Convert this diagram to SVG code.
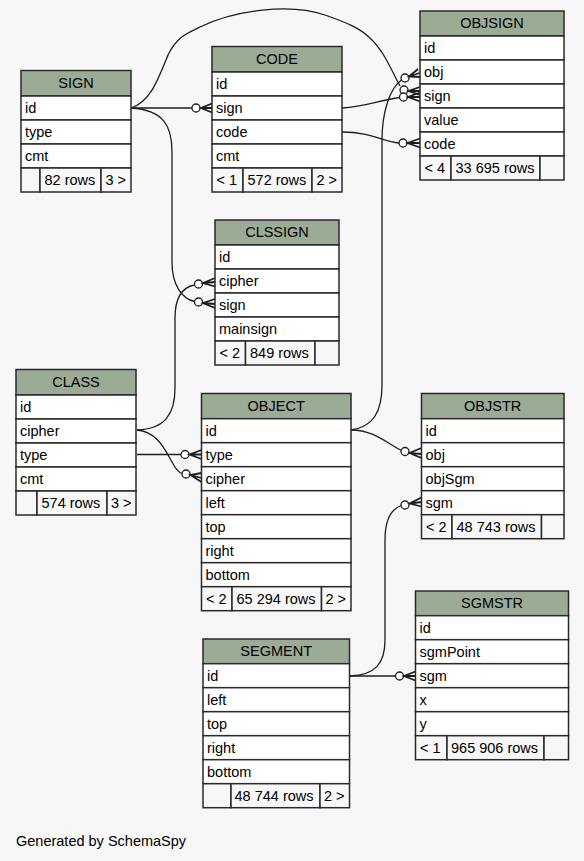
<svg xmlns="http://www.w3.org/2000/svg" width="584" height="861" viewBox="0 0 584 861">
<style>
text{font-family:"Liberation Sans",Arial,sans-serif;font-size:14.5px;font-weight:normal;fill:#000}
.hd{fill:#9bab96;stroke:#2a2a2a;stroke-width:1.5}
.rw{fill:#ffffff;stroke:#2a2a2a;stroke-width:1.5}
.ft{fill:#f7f7f7;stroke:#2a2a2a;stroke-width:1.5}
.c{text-anchor:middle}
.e{fill:none;stroke:#1e1e1e;stroke-width:1.3}
.o{fill:#ffffff;stroke:#1e1e1e;stroke-width:1.3}
.cr{fill:none;stroke:#1e1e1e;stroke-width:1.8}
</style>
<rect width="584" height="861" fill="#f7f7f7"/>

<g id="connectors">
<!-- SIGN.id -> CODE.sign -->
<path class="e" d="M131,108 L192,108"/>
<circle class="o" cx="196" cy="108" r="4"/>
<path class="cr" d="M212,103.5 L201,108 L212,112.5 M201,108 L212,108"/>
<!-- SIGN.id -> OBJSIGN.sign -->
<path class="e" d="M131,108 C150,102 158,80 168,55 C176,38 185,34 200,27 C235,10 290,3 325,15 C345,22 360,28 370,38 C385,52 392,72 400,86"/>
<circle class="o" cx="404" cy="90" r="4"/>
<path class="cr" d="M420,87 L408.5,91 L420,95 M408.5,91 L420,91"/>
<!-- CODE.sign -> OBJSIGN.sign -->
<path class="e" d="M342,108 C365,107 380,100 399.5,97.5"/>
<circle class="o" cx="403.5" cy="97" r="4"/>
<path class="cr" d="M420,92.5 L408,97 L420,101.5 M408,97 L420,97"/>
<!-- CODE.code -> OBJSIGN.code -->
<path class="e" d="M342,132 C370,132 382,141 399,143"/>
<circle class="o" cx="403" cy="143" r="4"/>
<path class="cr" d="M420,138.5 L407.5,143 L420,147.5 M407.5,143 L420,143"/>
<!-- OBJECT.id -> OBJSIGN.obj -->
<path class="e" d="M351,430 C373,427 382,412 382,385 L382,140 C382,112 390,88 401.5,80"/>
<circle class="o" cx="405" cy="78" r="4"/>
<path class="cr" d="M418,69 L409,76.5 L420,77 M409,76.5 L419.5,73"/>
<!-- SIGN.id -> CLSSIGN.sign -->
<path class="e" d="M131,108 C163,110 172,125 172,152 L172,262 C172,285 182,299 194.5,301.5"/>
<circle class="o" cx="198.5" cy="302" r="4"/>
<path class="cr" d="M215,299 L203,303 L215,308 M203,303 L215,304"/>
<!-- CLASS.cipher -> CLSSIGN.cipher -->
<path class="e" d="M137,430 C165,429 175,414 175,388 L175,318 C175,296 184,287 194.5,285"/>
<circle class="o" cx="198.5" cy="284" r="4"/>
<path class="cr" d="M215,278 L203,283 L215,286.5 M203,283 L215,282"/>
<!-- CLASS.type -> OBJECT.type -->
<path class="e" d="M137,454.5 L181,454.5"/>
<circle class="o" cx="185" cy="454.5" r="4"/>
<path class="cr" d="M201.5,450 L189.5,454.5 L201.5,459 M189.5,454.5 L201.5,454.5"/>
<!-- CLASS.cipher -> OBJECT.cipher -->
<path class="e" d="M137,430 C158,432 165,450 172,462 C175,468 178,472 182,473.5"/>
<circle class="o" cx="186" cy="474" r="4"/>
<path class="cr" d="M201.5,473 L190.5,475 L201.5,482 M190.5,475 L201.5,478"/>
<!-- OBJECT.id -> OBJSTR.obj -->
<path class="e" d="M351,430 C373,430 385,442 401.5,450.5"/>
<circle class="o" cx="405" cy="451.5" r="4"/>
<path class="cr" d="M421.5,448 L409.5,453 L421.5,458 M409.5,453 L421.5,454"/>
<!-- SEGMENT.id -> OBJSTR.sgm -->
<path class="e" d="M350,676 C375,675 385,664 385,640 L385,540 C385,520 391,509 401.5,505.5"/>
<circle class="o" cx="405" cy="505" r="4"/>
<path class="cr" d="M421.5,497.5 L409.5,503.5 L421.5,506.5 M409.5,503.5 L421.5,502"/>
<!-- SEGMENT.id -> SGMSTR.sgm -->
<path class="e" d="M350,676 L395.5,676"/>
<circle class="o" cx="399.5" cy="676" r="4"/>
<path class="cr" d="M415.5,671.5 L404,676 L415.5,680.5 M404,676 L415.5,676"/>
</g>

<g id="SIGN">
<rect class="hd" x="21" y="70.5" width="110" height="25.5"/>
<text class="c" x="76" y="87.5">SIGN</text>
<rect class="rw" x="21" y="96" width="110" height="24"/><text x="25" y="113">id</text>
<rect class="rw" x="21" y="120" width="110" height="24"/><text x="25" y="137">type</text>
<rect class="rw" x="21" y="144" width="110" height="24"/><text x="25" y="161">cmt</text>
<rect class="ft" x="21" y="168" width="19" height="24"/>
<rect class="ft" x="40" y="168" width="61" height="24"/><text x="44.5" y="185">82 rows</text>
<rect class="ft" x="101" y="168" width="30" height="24"/><text x="105.5" y="185">3 &gt;</text>
</g>

<g id="CODE">
<rect class="hd" x="212" y="46.5" width="130" height="25.5"/>
<text class="c" x="277" y="63.5">CODE</text>
<rect class="rw" x="212" y="72" width="130" height="24"/><text x="216" y="89">id</text>
<rect class="rw" x="212" y="96" width="130" height="24"/><text x="216" y="113">sign</text>
<rect class="rw" x="212" y="120" width="130" height="24"/><text x="216" y="137">code</text>
<rect class="rw" x="212" y="144" width="130" height="24"/><text x="216" y="161">cmt</text>
<rect class="ft" x="212" y="168" width="31" height="24"/><text x="216.5" y="185">&lt; 1</text>
<rect class="ft" x="243" y="168" width="69" height="24"/><text x="247.5" y="185">572 rows</text>
<rect class="ft" x="312" y="168" width="30" height="24"/><text x="316.5" y="185">2 &gt;</text>
</g>

<g id="OBJSIGN">
<rect class="hd" x="420" y="11" width="144" height="25"/>
<text class="c" x="492" y="27.5">OBJSIGN</text>
<rect class="rw" x="420" y="36" width="144" height="24"/><text x="424" y="53">id</text>
<rect class="rw" x="420" y="60" width="144" height="24"/><text x="424" y="77">obj</text>
<rect class="rw" x="420" y="84" width="144" height="24"/><text x="424" y="101">sign</text>
<rect class="rw" x="420" y="108" width="144" height="24"/><text x="424" y="125">value</text>
<rect class="rw" x="420" y="132" width="144" height="24"/><text x="424" y="149">code</text>
<rect class="ft" x="420" y="156" width="31" height="24"/><text x="424.5" y="173">&lt; 4</text>
<rect class="ft" x="451" y="156" width="89" height="24"/><text x="455.5" y="173">33 695 rows</text>
<rect class="ft" x="540" y="156" width="24" height="24"/>
</g>

<g id="CLSSIGN">
<rect class="hd" x="215" y="220" width="124" height="25"/>
<text class="c" x="277" y="236.5">CLSSIGN</text>
<rect class="rw" x="215" y="245" width="124" height="24"/><text x="219" y="262">id</text>
<rect class="rw" x="215" y="269" width="124" height="24"/><text x="219" y="286">cipher</text>
<rect class="rw" x="215" y="293" width="124" height="24"/><text x="219" y="310">sign</text>
<rect class="rw" x="215" y="317" width="124" height="24"/><text x="219" y="334">mainsign</text>
<rect class="ft" x="215" y="341" width="30.5" height="24"/><text x="219.5" y="358">&lt; 2</text>
<rect class="ft" x="245.5" y="341" width="69.5" height="24"/><text x="250" y="358">849 rows</text>
<rect class="ft" x="315" y="341" width="24" height="24"/>
</g>

<g id="CLASS">
<rect class="hd" x="16" y="369.5" width="120" height="25.5"/>
<text class="c" x="76" y="386.5">CLASS</text>
<rect class="rw" x="16" y="395" width="120" height="24"/><text x="20" y="412">id</text>
<rect class="rw" x="16" y="419" width="120" height="24"/><text x="20" y="436">cipher</text>
<rect class="rw" x="16" y="443" width="120" height="24"/><text x="20" y="460">type</text>
<rect class="rw" x="16" y="467" width="120" height="24"/><text x="20" y="484">cmt</text>
<rect class="ft" x="16" y="491" width="21" height="24"/>
<rect class="ft" x="37" y="491" width="70" height="24"/><text x="41.5" y="508">574 rows</text>
<rect class="ft" x="107" y="491" width="29" height="24"/><text x="111" y="508">3 &gt;</text>
</g>

<g id="OBJECT">
<rect class="hd" x="201.5" y="393.5" width="149.5" height="25.2"/>
<text class="c" x="276.2" y="410.5">OBJECT</text>
<rect class="rw" x="201.5" y="418.7" width="149.5" height="24"/><text x="205.5" y="435.7">id</text>
<rect class="rw" x="201.5" y="442.7" width="149.5" height="24"/><text x="205.5" y="459.7">type</text>
<rect class="rw" x="201.5" y="466.7" width="149.5" height="24"/><text x="205.5" y="483.7">cipher</text>
<rect class="rw" x="201.5" y="490.7" width="149.5" height="24"/><text x="205.5" y="507.7">left</text>
<rect class="rw" x="201.5" y="514.7" width="149.5" height="24"/><text x="205.5" y="531.7">top</text>
<rect class="rw" x="201.5" y="538.7" width="149.5" height="24"/><text x="205.5" y="555.7">right</text>
<rect class="rw" x="201.5" y="562.7" width="149.5" height="24"/><text x="205.5" y="579.7">bottom</text>
<rect class="ft" x="201.5" y="586.7" width="30.5" height="24"/><text x="206" y="603.7">&lt; 2</text>
<rect class="ft" x="232" y="586.7" width="89.5" height="24"/><text x="236.5" y="603.7">65 294 rows</text>
<rect class="ft" x="321.5" y="586.7" width="29.5" height="24"/><text x="325.5" y="603.7">2 &gt;</text>
</g>

<g id="OBJSTR">
<rect class="hd" x="421.5" y="393.5" width="142.5" height="25.2"/>
<text class="c" x="492.7" y="410.5">OBJSTR</text>
<rect class="rw" x="421.5" y="418.7" width="142.5" height="24"/><text x="425.5" y="435.7">id</text>
<rect class="rw" x="421.5" y="442.7" width="142.5" height="24"/><text x="425.5" y="459.7">obj</text>
<rect class="rw" x="421.5" y="466.7" width="142.5" height="24"/><text x="425.5" y="483.7">objSgm</text>
<rect class="rw" x="421.5" y="490.7" width="142.5" height="24"/><text x="425.5" y="507.7">sgm</text>
<rect class="ft" x="421.5" y="514.7" width="30.5" height="24"/><text x="426" y="531.7">&lt; 2</text>
<rect class="ft" x="452" y="514.7" width="89.5" height="24"/><text x="456.5" y="531.7">48 743 rows</text>
<rect class="ft" x="541.5" y="514.7" width="22.5" height="24"/>
</g>

<g id="SEGMENT">
<rect class="hd" x="203" y="639" width="146.5" height="24.7"/>
<text class="c" x="276.2" y="655.5">SEGMENT</text>
<rect class="rw" x="203" y="663.7" width="146.5" height="24"/><text x="207" y="680.7">id</text>
<rect class="rw" x="203" y="687.7" width="146.5" height="24"/><text x="207" y="704.7">left</text>
<rect class="rw" x="203" y="711.7" width="146.5" height="24"/><text x="207" y="728.7">top</text>
<rect class="rw" x="203" y="735.7" width="146.5" height="24"/><text x="207" y="752.7">right</text>
<rect class="rw" x="203" y="759.7" width="146.5" height="24"/><text x="207" y="776.7">bottom</text>
<rect class="ft" x="203" y="783.7" width="28" height="24"/>
<rect class="ft" x="231" y="783.7" width="89" height="24"/><text x="234.5" y="800.7">48 744 rows</text>
<rect class="ft" x="320" y="783.7" width="29.5" height="24"/><text x="324" y="800.7">2 &gt;</text>
</g>

<g id="SGMSTR">
<rect class="hd" x="415.5" y="591" width="153" height="24.7"/>
<text class="c" x="492" y="607.5">SGMSTR</text>
<rect class="rw" x="415.5" y="615.7" width="153" height="24"/><text x="419.5" y="632.7">id</text>
<rect class="rw" x="415.5" y="639.7" width="153" height="24"/><text x="419.5" y="656.7">sgmPoint</text>
<rect class="rw" x="415.5" y="663.7" width="153" height="24"/><text x="419.5" y="680.7">sgm</text>
<rect class="rw" x="415.5" y="687.7" width="153" height="24"/><text x="419.5" y="704.7">x</text>
<rect class="rw" x="415.5" y="711.7" width="153" height="24"/><text x="419.5" y="728.7">y</text>
<rect class="ft" x="415.5" y="735.7" width="31.5" height="24"/><text x="420" y="752.7">&lt; 1</text>
<rect class="ft" x="447" y="735.7" width="97" height="24"/><text x="451" y="752.7">965 906 rows</text>
<rect class="ft" x="544" y="735.7" width="24.5" height="24"/>
</g>

<text x="16" y="846">Generated by SchemaSpy</text>
</svg>
